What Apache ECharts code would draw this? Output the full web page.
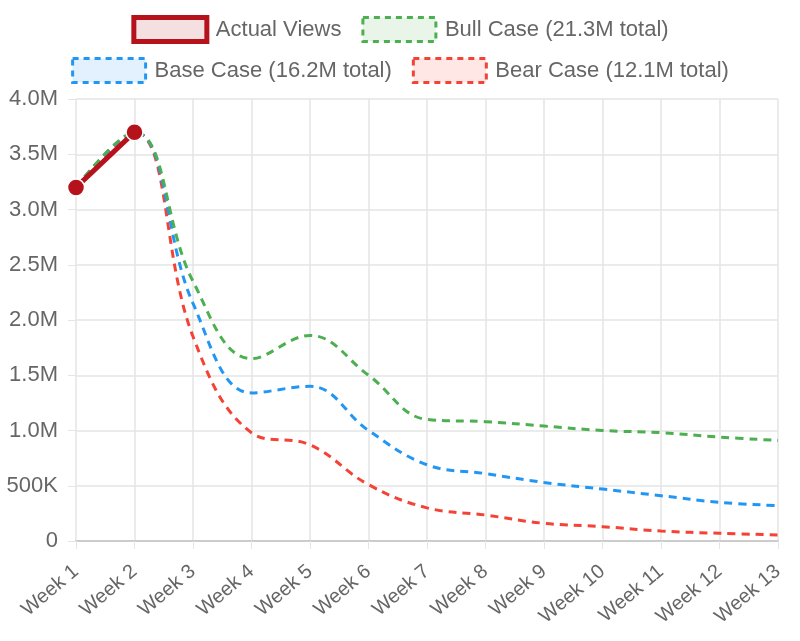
<!DOCTYPE html>
<html>
<head>
<meta charset="utf-8">
<script src="https://cdn.jsdelivr.net/npm/echarts@6/dist/echarts.min.js"></script>
<style>
  html, body { margin: 0; padding: 0; background: #fff; }
  #chart { width: 800px; height: 641px; }
</style>
</head>
<body>
<div id="chart"></div>
<script>
// weekly views: actual plus three forecast scenarios
var weeks = ["Week 1", "Week 2", "Week 3", "Week 4", "Week 5", "Week 6", "Week 7",
  "Week 8", "Week 9", "Week 10", "Week 11", "Week 12", "Week 13"];
var actualViews = [3200000, 3700000, null, null, null, null, null, null, null, null, null, null, null];
var bullCase = [3200000, 3700000, 2350000, 1650000, 1860000, 1500000, 1100000, 1080000, 1040000, 1000000, 980000, 940000, 910000];
var baseCase = [3200000, 3700000, 2150000, 1340000, 1400000, 1000000, 690000, 610000, 530000, 470000, 410000, 350000, 320000];
var bearCase = [3200000, 3700000, 1850000, 980000, 870000, 510000, 300000, 235000, 160000, 130000, 90000, 70000, 55000];
var seriesNames = ["Actual Views", "Bull Case (21.3M total)", "Base Case (16.2M total)", "Bear Case (12.1M total)"];

var FONT = '"Helvetica Neue", Helvetica, Arial, "Liberation Sans", sans-serif';
var textColor = "#666";

function fmtViews(v) {
  if (v === 0) return "0";
  if (v >= 1000000) return (v / 1000000).toFixed(1) + "M";
  return (v / 1000) + "K";
}

function legendItem(name, color, fill, width, type) {
  return {
    name: name,
    icon: "rect",
    itemStyle: { color: fill, borderColor: color, borderWidth: width, borderType: type }
  };
}

function dashed(name, data, color) {
  return {
    name: name,
    type: "line",
    data: data,
    smooth: 0.4,
    showSymbol: false,
    symbol: "none",
    itemStyle: { color: color },
    lineStyle: { color: color, width: 3, type: [8, 6] }
  };
}

var legendText = { color: textColor, fontSize: 22, fontFamily: FONT, padding: [0, 0, 0, 4] };

var myChart = echarts.init(document.getElementById("chart"));
myChart.setOption({
  animation: false,
  textStyle: { fontFamily: FONT },
  legend: [
    {
      top: 10,
      left: "center",
      itemWidth: 73,
      itemHeight: 24,
      itemGap: 20,
      textStyle: legendText,
      data: [
        legendItem(seriesNames[0], "#b5121b", "rgba(181,18,27,0.13)", 5, "solid"),
        legendItem(seriesNames[1], "#4caf50", "rgba(76,175,80,0.13)", 3, [6, 5])
      ]
    },
    {
      top: 52,
      left: "center",
      itemWidth: 73,
      itemHeight: 24,
      itemGap: 20,
      textStyle: legendText,
      data: [
        legendItem(seriesNames[2], "#2196f3", "rgba(33,150,243,0.13)", 3, [6, 5]),
        legendItem(seriesNames[3], "#f44336", "rgba(244,67,54,0.13)", 3, [6, 5])
      ]
    }
  ],
  grid: { left: 76, right: 22, top: 99, bottom: 100, containLabel: false },
  xAxis: {
    type: "category",
    boundaryGap: false,
    data: weeks,
    axisLine: { show: true, lineStyle: { color: "#ccc", width: 2 } },
    axisTick: { show: true, length: 8, lineStyle: { color: "#e5e5e5" } },
    splitLine: { show: true, lineStyle: { color: "#e5e5e5", width: 1.5 } },
    axisLabel: {
      color: textColor,
      fontSize: 20,
      rotate: 40,
      margin: 28,
      interval: 0
    }
  },
  yAxis: {
    type: "value",
    min: 0,
    max: 4000000,
    interval: 500000,
    axisLine: { show: false },
    axisTick: { show: true, length: 8, lineStyle: { color: "#e5e5e5" } },
    splitLine: { show: true, lineStyle: { color: "#e5e5e5", width: 1.5 } },
    axisLabel: {
      color: textColor,
      fontSize: 22,
      margin: 18,
      formatter: fmtViews
    }
  },
  series: [
    dashed(seriesNames[3], bearCase, "#f44336"),
    dashed(seriesNames[2], baseCase, "#2196f3"),
    dashed(seriesNames[1], bullCase, "#4caf50"),
    {
      name: seriesNames[0],
      type: "line",
      data: actualViews,
      symbol: "circle",
      symbolSize: 17,
      showSymbol: true,
      itemStyle: { color: "#b5121b", borderColor: "#fff", borderWidth: 1.5 },
      lineStyle: { color: "#b5121b", width: 5 },
      z: 5
    }
  ]
});
</script>
</body>
</html>
